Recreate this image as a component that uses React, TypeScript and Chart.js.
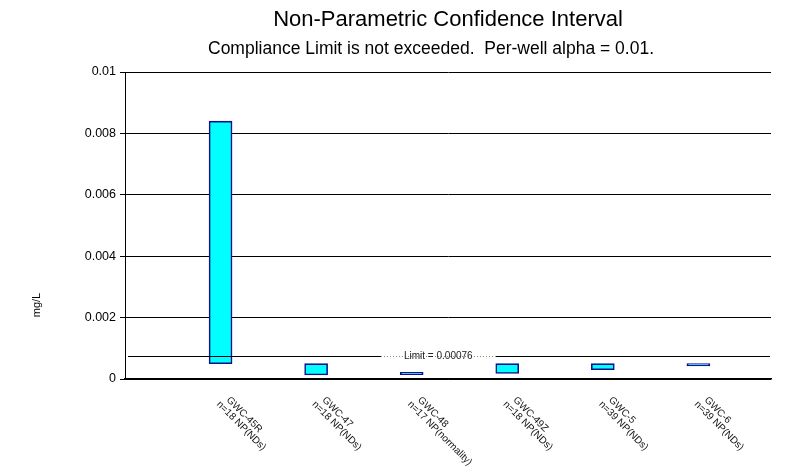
import React, { useEffect, useRef } from 'react';
import { Chart, registerables } from 'chart.js';

Chart.register(...registerables);

const categories = ['GWC-45R', 'GWC-47', 'GWC-48', 'GWC-49Z', 'GWC-5', 'GWC-6'];
const subLabels = ['n=18 NP(NDs)', 'n=18 NP(NDs)', 'n=17 NP(normality)', 'n=18 NP(NDs)', 'n=39 NP(NDs)', 'n=39 NP(NDs)'];
const lowerLimits = [0.0005, 0.00013, 0.00014, 0.00018, 0.0003, 0.00043];
const upperLimits = [0.0084, 0.0005, 0.00022, 0.0005, 0.0005, 0.0005];
const complianceLimit = 0.00076;
const yTickValues = [0, 0.002, 0.004, 0.006, 0.008, 0.01];
const titleText = 'Non-Parametric Confidence Interval';
const subtitleText = 'Compliance Limit is not exceeded.  Per-well alpha = 0.01.';
const yAxisTitle = 'mg/L';
const limitLabel = 'Limit = 0.00076';

const FONT = '"Liberation Sans", Arial, sans-serif';

const overlayPlugin = {
  id: 'overlay',
  afterDraw(chart: any) {
    const { ctx, chartArea, scales } = chart;
    const xs = scales.x;
    const cx = (chartArea.left + chartArea.right) / 2;
    ctx.save();
    ctx.fillStyle = '#000';
    ctx.textAlign = 'center';
    ctx.textBaseline = 'middle';
    ctx.font = `22px ${FONT}`;
    ctx.fillText(titleText, cx, 20);
    ctx.font = `17.5px ${FONT}`;
    ctx.fillText(subtitleText, cx - 17, 49);

    // y axis title
    ctx.save();
    ctx.translate(37, 305);
    ctx.rotate(-Math.PI / 2);
    ctx.font = `11px ${FONT}`;
    ctx.fillText(yAxisTitle, 0, 0);
    ctx.restore();

    // category labels
    ctx.font = `10px ${FONT}`;
    ctx.textAlign = 'left';
    ctx.textBaseline = 'top';
    ctx.fillStyle = '#111';
    categories.forEach((c, i) => {
      const x = xs.getPixelForValue(i + 1);
      ctx.save();
      ctx.translate(x + 11, chartArea.bottom + 16);
      ctx.rotate(Math.PI / 4);
      ctx.fillText(c, 0, 0);
      ctx.fillText(subLabels[i], -4, 10);
      ctx.restore();
    });
    ctx.restore();
  },
  afterDatasetsDraw(chart: any) {
    const { ctx, chartArea, scales } = chart;
    const ys = scales.y;
    const y = Math.round(ys.getPixelForValue(complianceLimit)) + 0.5;
    const x0 = chartArea.left + 3;
    const x1 = chartArea.right - 1;
    const labelCx = chartArea.left + 0.485 * (chartArea.right - chartArea.left);
    ctx.save();
    ctx.font = `10px ${FONT}`;
    const w = ctx.measureText(limitLabel).width;
    const g0 = labelCx - w / 2 - 23;
    const g1 = labelCx + w / 2 + 23;
    ctx.strokeStyle = '#000';
    ctx.lineWidth = 1;
    ctx.beginPath();
    ctx.moveTo(x0, y);
    ctx.lineTo(g0, y);
    ctx.moveTo(g1, y);
    ctx.lineTo(x1, y);
    ctx.stroke();
    ctx.strokeStyle = '#888';
    ctx.setLineDash([1, 2]);
    ctx.beginPath();
    ctx.moveTo(g0, y);
    ctx.lineTo(g1, y);
    ctx.stroke();
    ctx.setLineDash([]);
    ctx.fillStyle = '#222';
    ctx.textAlign = 'center';
    ctx.textBaseline = 'middle';
    ctx.fillText(limitLabel, labelCx, y);
    ctx.restore();
  },
};

export default function App() {
  const ref = useRef<HTMLCanvasElement>(null);
  useEffect(() => {
    document.body.style.margin = '0';
    const chart = new Chart(ref.current as HTMLCanvasElement, {
      type: 'bar',
      data: {
        datasets: [
          {
            data: categories.map((c, i) => ({ x: i + 1, y: [lowerLimits[i], upperLimits[i]] })) as any,
            backgroundColor: '#00FFFF',
            borderColor: '#10108a',
            borderWidth: 1.6,
            borderSkipped: false,
            barThickness: 23,
          } as any,
        ],
      },
      options: {
        responsive: false,
        devicePixelRatio: 1,
        animation: false,
        layout: { padding: { top: 72, right: 18, left: 0, bottom: 0 } },
        plugins: {
          legend: { display: false },
          tooltip: { enabled: false },
          title: { display: false },
        },
        scales: {
          x: {
            type: 'linear',
            min: 0,
            max: 6.76,
            offset: false,
            grid: { display: false },
            border: { display: true, color: '#000', width: 1.5 },
            ticks: { display: false },
            afterFit: (s: any) => {
              s.height = 88;
            },
          },
          y: {
            min: 0,
            max: 0.01,
            afterBuildTicks: (s: any) => {
              s.ticks = yTickValues.map((v) => ({ value: v }));
            },
            ticks: {
              color: '#000',
              padding: 4,
              font: { family: FONT, size: 12.5 },
              callback: (v: any) => String(v),
            },
            grid: { color: '#000', lineWidth: 1, tickLength: 5, tickColor: '#000' },
            border: { display: true, color: '#000', width: 1 },
            afterFit: (s: any) => {
              s.width = 125;
            },
          },
        },
      } as any,
      plugins: [overlayPlugin],
    });
    return () => chart.destroy();
  }, []);
  return <canvas ref={ref} width={789} height={467} style={{ display: 'block', width: 789, height: 467 }} />;
}
